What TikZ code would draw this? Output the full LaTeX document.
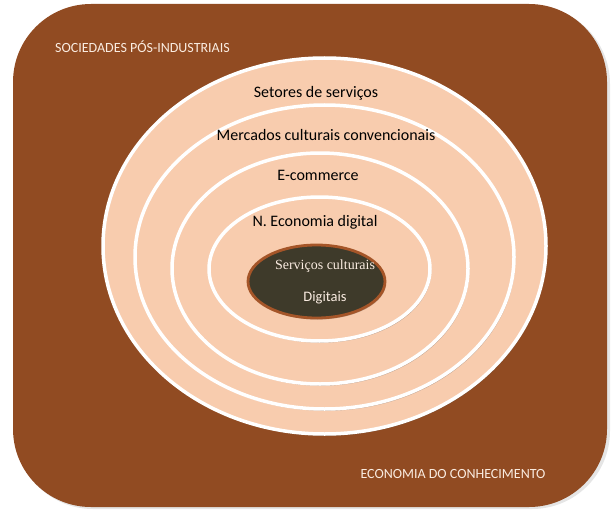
\documentclass[tikz,border=0pt]{standalone}
\usepackage{fontspec}
\setmainfont{Carlito}
\newfontfamily\serifcapt{Liberation Serif}
\usetikzlibrary{shapes.geometric,shadows}
\definecolor{bgbrown}{RGB}{145,75,34}
\definecolor{peach}{RGB}{248,204,174}
\definecolor{darkolive}{RGB}{62,58,42}
\definecolor{rimbrown}{RGB}{165,85,40}
\definecolor{lighttext}{RGB}{250,236,225}
\tikzset{
  ring/.style={ellipse, draw=white, fill=peach, line width=3.5pt, inner sep=0pt,
    drop shadow={shadow xshift=1.2pt, shadow yshift=-1.8pt, opacity=0.35, fill=black!70}},
  lbl/.style={font=\fontsize{16}{18}\selectfont, text=black, inner sep=0pt},
  lightlbl/.style={font=\fontsize{14}{16}\selectfont, text=lighttext, inner sep=0pt}
}
\begin{document}
\begin{tikzpicture}[x=1pt,y=-1pt]
\useasboundingbox (0,0) rectangle (615,516);
% background panel
\fill[black!25, opacity=0.4, rounded corners=78pt] (15,6) rectangle (610,509);
\node[draw=none, fill=bgbrown, rounded corners=78pt, minimum width=594pt, minimum height=503pt, inner sep=0pt] (panel) at (310,255.5) {};
% rings
\node[ring, minimum width=443pt, minimum height=376pt] (r1) at (324.5,246) {};
\node[ring, minimum width=379pt, minimum height=304pt] (r2) at (324.5,257) {};
\node[ring, minimum width=296pt, minimum height=231pt] (r3) at (320,268.5) {};
\node[ring, minimum width=221pt, minimum height=144pt] (r4) at (319.5,269) {};
\node[ellipse, draw=rimbrown, fill=darkolive, line width=2.8pt, inner sep=0pt,
  minimum width=137pt, minimum height=73pt,
  drop shadow={shadow xshift=1pt, shadow yshift=-1.5pt, opacity=0.35, fill=black!70}] (core) at (316.5,281.5) {};
% labels
\node[lightlbl, anchor=west] (t0) at (55,47) {SOCIEDADES PÓS-INDUSTRIAIS};
\node[lbl] (t1) at (316,93) {Setores de serviços};
\node[lbl] (t2) at (326,135) {Mercados culturais convencionais};
\node[lbl] (t3) at (318,175) {E-commerce};
\node[lbl] (t4) at (315,222) {N. Economia digital};
\node[font=\serifcapt\fontsize{14}{16}\selectfont, text=lighttext, inner sep=0pt] (t5) at (325,266) {Serviços culturais};
\node[font=\fontsize{14.5}{16}\selectfont, text=lighttext, inner sep=0pt] (t6) at (325,298) {Digitais};
\node[lightlbl] (t7) at (453,474) {ECONOMIA DO CONHECIMENTO};
\end{tikzpicture}
\end{document}
